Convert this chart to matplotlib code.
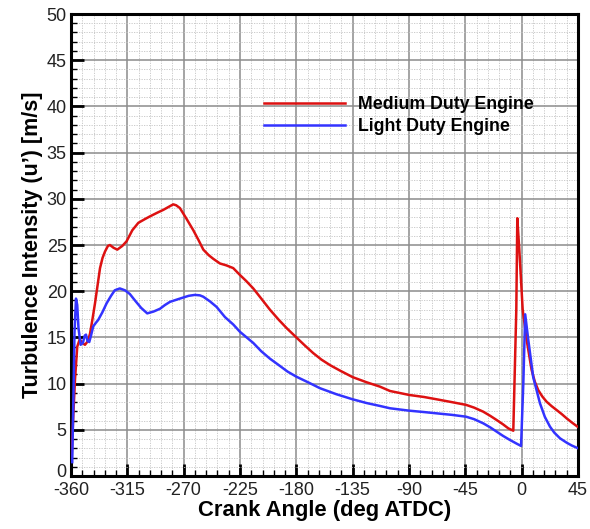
import matplotlib
matplotlib.use("Agg")
import matplotlib.pyplot as plt
import matplotlib.transforms as mtransforms
from matplotlib.ticker import MultipleLocator

plt.rcParams['font.family'] = ['Liberation Sans', 'DejaVu Sans']
plt.rcParams['axes.unicode_minus'] = False

# Medium Duty Engine
md_angle = [-359.5, -358, -356.8, -355, -353, -351, -348.8, -346.5, -344.8, -342.8,
            -340.8, -338.8, -336.8, -334.8, -332.8, -330.5, -328.9, -326, -323, -319,
            -315.6, -311, -306.2, -301, -296.9, -291, -286.3, -281, -278.3, -276,
            -273, -268, -262.3, -258, -254.3, -250, -246.3, -241, -236, -230.4,
            -225, -220, -214.4, -208, -201.1, -194, -187.7, -180, -173, -166.5,
            -160, -153.1, -145, -135, -124, -113.2, -105.2, -89.8, -78, -67.9,
            -56, -44.5, -38, -30.7, -25, -20, -15, -10.7, -6.7, -4.3,
            -3.5, -1.9, 0.8, 4, 7.9, 10.5, 13.2, 16.5, 19.9, 24,
            27.9, 32, 35.9, 40, 45]
md_value = [2.0, 7.0, 10.4, 14.0, 14.8, 14.4, 14.2, 14.6, 15.4, 17.0,
            18.7, 20.6, 22.5, 23.6, 24.3, 24.9, 25.0, 24.7, 24.5, 24.9,
            25.4, 26.6, 27.4, 27.8, 28.1, 28.5, 28.8, 29.2, 29.4, 29.3,
            29.0, 27.9, 26.6, 25.5, 24.5, 23.9, 23.5, 23.0, 22.8, 22.5,
            21.75, 21.1, 20.3, 19.2, 18.0, 16.9, 16.0, 15.0, 14.1, 13.3,
            12.6, 12.0, 11.4, 10.7, 10.15, 9.67, 9.2, 8.77, 8.55, 8.3,
            8.0, 7.7, 7.4, 6.96, 6.5, 6.06, 5.6, 5.16, 4.9, 18.0,
            27.9, 24.5, 18.0, 14.7, 11.5, 10.2, 9.3, 8.6, 8.04, 7.55,
            7.14, 6.7, 6.24, 5.8, 5.3]

# Light Duty Engine
ld_angle = [-359, -358, -357.2, -356, -355, -354, -352.3, -350.5, -349, -348,
            -346.8, -345.4, -344, -342.2, -340, -338.2, -335, -331.5, -328, -325,
            -321, -316.9, -313, -308.9, -304, -299.1, -294, -288.9, -285, -280.9,
            -273, -266, -261, -257, -254.3, -249, -243.7, -237, -230.4, -225,
            -214.4, -208, -201.1, -194, -187, -180, -170, -161.1, -148, -135,
            -124, -113.2, -105.2, -89.8, -78, -67.9, -56, -44.5, -38, -30.7,
            -25, -20, -15, -9.4, -4, -0.5, 1.3, 2.8, 5.3, 9.2,
            14.6, 18.5, 22.6, 26, 30.6, 36, 40, 45]
ld_value = [1.5, 9.0, 15.5, 19.2, 18.5, 16.0, 14.2, 14.4, 15.2, 15.3,
            14.6, 14.5, 15.2, 16.2, 16.6, 16.9, 17.7, 18.7, 19.5, 20.1,
            20.3, 20.1, 19.7, 19.0, 18.2, 17.6, 17.8, 18.1, 18.5, 18.85,
            19.2, 19.5, 19.6, 19.55, 19.4, 18.9, 18.3, 17.2, 16.4, 15.6,
            14.4, 13.5, 12.7, 12.0, 11.3, 10.75, 10.1, 9.5, 8.85, 8.3,
            7.9, 7.58, 7.33, 7.07, 6.92, 6.78, 6.62, 6.42, 6.15, 5.7,
            5.25, 4.8, 4.35, 3.9, 3.5, 3.25, 10.0, 17.5, 14.7, 10.7,
            7.87, 6.4, 5.34, 4.7, 4.08, 3.6, 3.3, 3.0]

xticks = [-360, -315, -270, -225, -180, -135, -90, -45, 0, 45]
yticks = [0, 5, 10, 15, 20, 25, 30, 35, 40, 45, 50]

fig = plt.figure(figsize=(5.9, 5.29), dpi=100)
ax = fig.add_axes([0.1203, 0.1002, 0.8594, 0.8733])

ax.plot(md_angle, md_value, color='#dd1111', lw=1.8, label='Medium Duty Engine', zorder=3)
ax.plot(ld_angle, ld_value, color='#3333ff', lw=1.8, label='Light Duty Engine', zorder=3)

ax.set_xlim(-360, 45)
ax.set_ylim(0, 50)
ax.set_xticks(xticks)
ax.set_yticks(yticks)
ax.xaxis.set_minor_locator(MultipleLocator(9))
ax.yaxis.set_minor_locator(MultipleLocator(1))

ax.grid(True, which='major', color='#8c8c8c', lw=1.1, ls='-', zorder=1)
ax.grid(True, which='minor', color='#c4c4c4', lw=0.6, ls=(0, (1.5, 1.5)), zorder=1)
ax.set_axisbelow(True)

for s in ax.spines.values():
    s.set_linewidth(2.2)
    s.set_color('black')

ax.tick_params(axis='both', which='major', direction='in', length=9, width=2, color='black',
               top=False, right=False, labelcolor='#222222')
ax.tick_params(axis='both', which='minor', direction='in', length=4, width=1, color='black',
               top=False, right=False)
ax.tick_params(axis='x', which='major', labelsize=13, pad=4)
ax.tick_params(axis='y', which='major', labelsize=13, pad=3)

# lift the "0" y-tick label slightly so it clears the "-360" x-tick label
fig.canvas.draw()
zero_lbl = ax.get_yticklabels()[0]
zero_lbl.set_transform(zero_lbl.get_transform() +
                       mtransforms.ScaledTranslation(0, 4 / 72, fig.dpi_scale_trans))

ax.set_xlabel('Crank Angle (deg ATDC)', fontsize=15.8, fontweight='bold', labelpad=1)
ax.set_ylabel('Turbulence Intensity (u’) [m/s]', fontsize=15.5, fontweight='bold', labelpad=3)

leg = ax.legend(loc='upper left', bbox_to_anchor=(0.367, 0.838), frameon=False,
                handlelength=4.55, handletextpad=0.75, labelspacing=0.28,
                prop={'size': 12.8, 'weight': 'bold'}, borderaxespad=0)

fig.savefig('out.png', dpi=100)
